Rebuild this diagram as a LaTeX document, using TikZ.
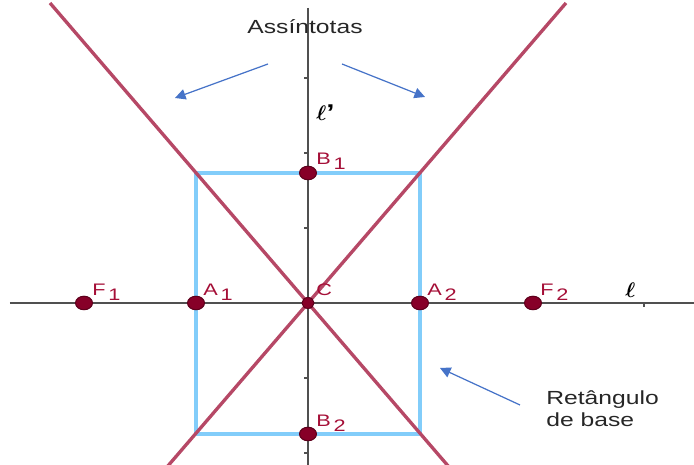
\documentclass[tikz,border=0pt]{standalone}
\usepackage{amsmath}
\usepackage{bm}
\usepackage{fontspec}
\setmainfont[FakeStretch=1.3]{Liberation Sans}
\usepackage{xcolor}
\usepackage{tikz}
\usetikzlibrary{shapes,arrows.meta,positioning}

\definecolor{asycolor}{RGB}{182,72,102}
\definecolor{rectcolor}{RGB}{130,205,250}
\definecolor{ptcolor}{RGB}{135,0,40}
\definecolor{labcolor}{RGB}{165,15,55}
\definecolor{notecolor}{RGB}{70,115,200}
\definecolor{axiscolor}{RGB}{80,80,80}

\newcommand{\ptname}[2]{#1\,\raisebox{-0.5ex}{#2}}

\begin{document}
\begin{tikzpicture}[
    x=0.02cm, y=0.02cm,
    axis/.style={draw=axiscolor, line width=0.9pt},
    asymptote/.style={draw=asycolor, line width=1.9pt},
    baserect/.style={draw=rectcolor, line width=2.2pt},
    point/.style={ellipse, draw=ptcolor!70!black, fill=ptcolor, line width=0.6pt, minimum width=0.34cm, minimum height=0.27cm, inner sep=0pt},
    smallpoint/.style={point, minimum width=0.24cm, minimum height=0.22cm},
    pointlabel/.style={text=labcolor, font=\fontsize{9.5}{11}\selectfont, anchor=base west, inner sep=0pt},
    axislabel/.style={font=\fontsize{13}{15}\selectfont, anchor=base west, inner sep=0pt},
    note/.style={text=black!85, font=\fontsize{10.8}{13}\selectfont, inner sep=0pt},
    pointer/.style={draw=notecolor, line width=0.7pt, -{Triangle[length=6pt, width=6pt]}}
]
\useasboundingbox (-308,-162) rectangle (386,303);

% axes
\coordinate (xleft) at (-298,0);
\coordinate (xright) at (386,0);
\coordinate (ytop) at (0,295);
\coordinate (ybottom) at (0,-162);
\draw[axis] (xleft) -- (xright);
\draw[axis] (ytop) -- (ybottom);
\foreach \t in {-150,-75,75,150,225} \draw[axis] (0,\t) -- (-4,\t);
\draw[axis] (336,0) -- (336,-4);

% rectangle and asymptotes
\coordinate (A1pos) at (-112,0);
\coordinate (A2pos) at (112,0);
\coordinate (B1pos) at (0,130);
\coordinate (B2pos) at (0,-131);
\draw[baserect] (A1pos |- B1pos) rectangle (A2pos |- B2pos);
\coordinate (asyLtop) at (-258,300);
\coordinate (asyLbot) at (141,-164);
\coordinate (asyRtop) at (258,300);
\coordinate (asyRbot) at (-141,-164);
\draw[asymptote] (asyLtop) -- (asyLbot);
\draw[asymptote] (asyRtop) -- (asyRbot);

% points
\node[point] (F1) at (-224,0) {};
\node[point] (A1) at (A1pos) {};
\node[smallpoint] (C) at (0,0) {};
\node[point] (A2) at (A2pos) {};
\node[point] (F2) at (225,0) {};
\node[point] (B1) at (B1pos) {};
\node[point] (B2) at (B2pos) {};

\node[pointlabel] (lF1) at ([shift={(8,7)}]F1.center) {\ptname{F}{1}};
\node[pointlabel] (lA1) at ([shift={(7,7)}]A1.center) {\ptname{A}{1}};
\node[pointlabel] (lC) at ([shift={(8,7)}]C.center) {C};
\node[pointlabel] (lA2) at ([shift={(7,7)}]A2.center) {\ptname{A}{2}};
\node[pointlabel] (lF2) at ([shift={(7,7)}]F2.center) {\ptname{F}{2}};
\node[pointlabel] (lB1) at ([shift={(8,8)}]B1.center) {\ptname{B}{1}};
\node[pointlabel] (lB2) at ([shift={(8,7)}]B2.center) {\ptname{B}{2}};

\node[axislabel] (lellp) at (8,182) {$\bm{\ell}$\textbf{’}};
\node[axislabel] (lell) at (317,5) {$\bm{\ell}$};

% notes
\node[note] (asynote) at (-3,276) {Assíntotas};
\coordinate (asyLfrom) at (-40,239);
\coordinate (asyLto) at (-133,205);
\coordinate (asyRfrom) at (34,239);
\coordinate (asyRto) at (117,206);
\draw[pointer] (asyLfrom) -- (asyLto);
\draw[pointer] (asyRfrom) -- (asyRto);

\node[note, anchor=north west, align=left] (rectnote) at (238,-87) {Retângulo\\de base};
\coordinate (rectfrom) at (212,-102);
\coordinate (rectto) at (132,-65);
\draw[pointer] (rectfrom) -- (rectto);

\end{tikzpicture}
\end{document}
